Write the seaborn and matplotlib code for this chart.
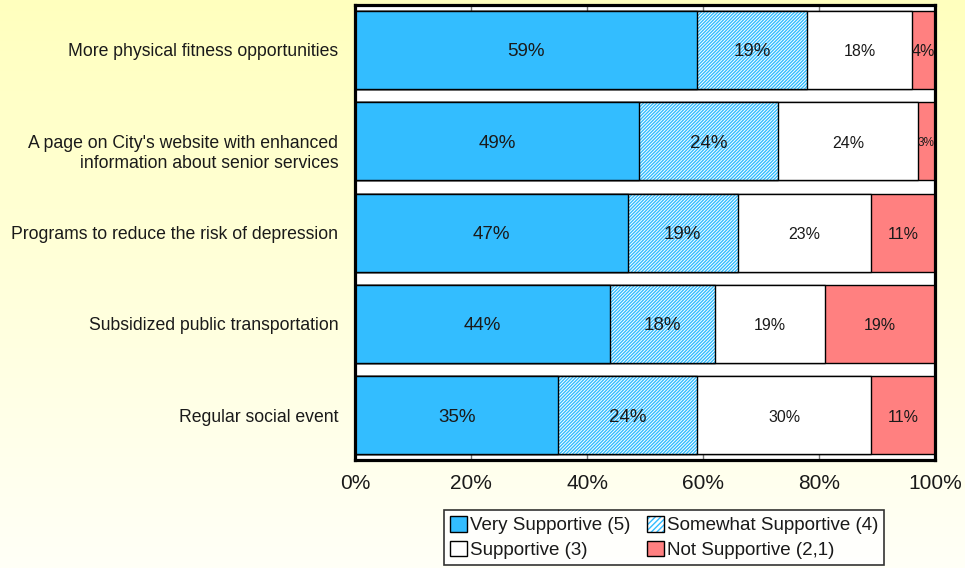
import numpy as np
import pandas as pd
import matplotlib
matplotlib.use("Agg")
import matplotlib.pyplot as plt
import matplotlib.transforms as mtransforms
from matplotlib.patches import Patch
from matplotlib.legend_handler import HandlerTuple
import seaborn as sns

# Survey items and response shares (%)
categories = [
    "More physical fitness opportunities",
    "A page on City's website with enhanced\ninformation about senior services",
    "Programs to reduce the risk of depression",
    "Subsidized public transportation",
    "Regular social event",
]
very_supportive = [59, 49, 47, 44, 35]
somewhat_supportive = [19, 24, 19, 18, 24]
supportive = [18, 24, 23, 19, 30]
not_supportive = [4, 3, 11, 19, 11]

series_names = ["Very Supportive (5)", "Somewhat Supportive (4)",
                "Supportive (3)", "Not Supportive (2,1)"]
tick_values = [0, 20, 40, 60, 80, 100]
tick_labels = ["0%", "20%", "40%", "60%", "80%", "100%"]

BLUE = "#33BDFF"
RED = "#FF8080"
TEXT = "#1a1a1a"

sns.set_theme(style="white")
plt.rcParams["font.family"] = ["Liberation Sans", "DejaVu Sans"]
plt.rcParams["hatch.linewidth"] = 1.0

df = pd.DataFrame({
    "item": categories,
    "v5": very_supportive,
    "v4": somewhat_supportive,
    "v3": supportive,
    "v21": not_supportive,
})
df["c1"] = df["v5"]
df["c2"] = df["c1"] + df["v4"]
df["c3"] = df["c2"] + df["v3"]
df["c4"] = df["c3"] + df["v21"]

fig = plt.figure(figsize=(9.65, 5.68), dpi=100)

# soft yellow background wash
bg = fig.add_axes([0, 0, 1, 1], zorder=-10)
grad = np.linspace(0, 1, 256).reshape(-1, 1)
top = np.array([255, 255, 190]) / 255
bot = np.array([255, 255, 247]) / 255
img = top + (bot - top) * grad[..., None]
bg.imshow(np.repeat(img, 2, axis=1), aspect="auto", extent=[0, 1, 0, 1])
bg.axis("off")

ax = fig.add_axes([0.368, 0.190, 0.601, 0.801])
ax.set_facecolor("white")

W = 0.855
common = dict(y="item", orient="h", width=W, saturation=1, ax=ax, order=categories)

# stacked bars drawn as cumulative overlays, back to front
sns.barplot(data=df, x="c4", color=RED, edgecolor="black", linewidth=1, **common)
sns.barplot(data=df, x="c3", color="white", edgecolor="black", linewidth=1, **common)
sns.barplot(data=df, x="c2", color="white", edgecolor=BLUE, linewidth=0,
            hatch="//////////", **common)
sns.barplot(data=df, x="c2", fill=False, edgecolor="black", linewidth=1, **common)
sns.barplot(data=df, x="c1", color=BLUE, edgecolor="black", linewidth=1, **common)

# value labels centered in each segment
for i, row in df.iterrows():
    segs = [(0, row.v5, 13.5), (row.c1, row.v4, 13.5), (row.c2, row.v3, 11.5),
            (row.c3, row.v21, 11.5 if row.v21 >= 4 else 8.5)]
    for left, val, fs in segs:
        ax.text(left + val / 2, i + 0.02, f"{val}%", ha="center", va="center",
                fontsize=fs, color=TEXT)

ax.set_xlim(0, 100)
ax.set_ylim(4.49, -0.49)
ax.set_xlabel("")
ax.set_ylabel("")
ax.set_xticks(tick_values)
ax.set_xticklabels(tick_labels, fontsize=15, color=TEXT)
ax.tick_params(axis="x", direction="in", length=5, width=1, color="#777777",
               top=True, bottom=True, pad=10)
ax.tick_params(axis="y", length=0, pad=12)
for lbl in ax.get_yticklabels():
    lbl.set_fontsize(12.7)
    lbl.set_color(TEXT)
    lbl.set_horizontalalignment("right")
    lbl.set_multialignment("right")
    lbl.set_linespacing(1.3)
    if "\n" in lbl.get_text():
        # two-line label sits a little lower than the bar centre
        lbl.set_transform(lbl.get_transform() +
                          mtransforms.ScaledTranslation(0, -6 / 72, fig.dpi_scale_trans))
for s in ax.spines.values():
    s.set_visible(True)
    s.set_color("black")
    s.set_linewidth(2.3)

handles = [
    Patch(facecolor=BLUE, edgecolor="black", linewidth=1),
    Patch(facecolor="white", edgecolor="black", linewidth=1),
    (Patch(facecolor="white", edgecolor=BLUE, linewidth=0, hatch="//////"),
     Patch(fill=False, edgecolor="black", linewidth=1)),
    Patch(facecolor=RED, edgecolor="black", linewidth=1),
]
labels = [series_names[0], series_names[2], series_names[1], series_names[3]]
leg = fig.legend(handles, labels, ncol=2, loc="center",
                 bbox_to_anchor=(0.688, 0.0537), fontsize=13.5,
                 frameon=True, fancybox=False, edgecolor="black",
                 handlelength=0.9, handleheight=0.9, handletextpad=0.15,
                 columnspacing=0.9, borderpad=0.3, labelspacing=0.35,
                 handler_map={tuple: HandlerTuple(ndivide=1, pad=0)})
leg.get_frame().set_linewidth(1.2)
leg.get_frame().set_facecolor("white")
for t in leg.get_texts():
    t.set_color(TEXT)

fig.savefig("out.png", dpi=100)
